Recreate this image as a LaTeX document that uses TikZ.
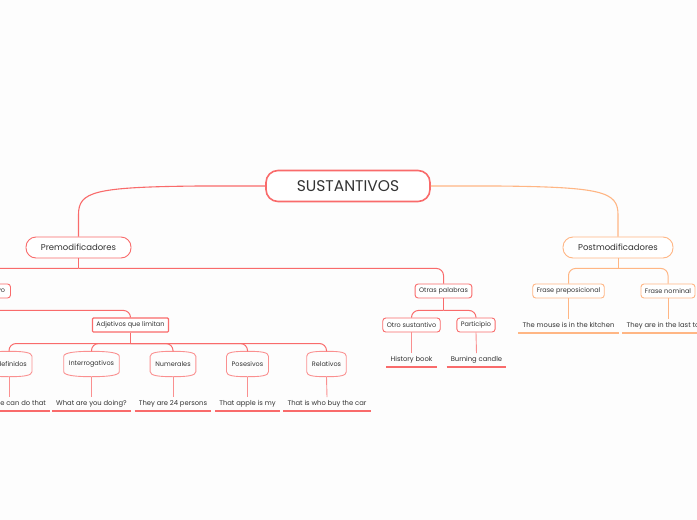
\documentclass[tikz,border=0pt]{standalone}
\usepackage{fontspec}
\setmainfont{Poppins}
\usetikzlibrary{calc,positioning}
\definecolor{mapred}{HTML}{F96B6B}
\definecolor{mapredlt}{HTML}{FA9090}
\definecolor{maporange}{HTML}{FFB684}
\definecolor{maptext}{HTML}{333333}
\definecolor{mapbg}{HTML}{FDFDFD}

% outline of the rounded "tape" boxes under Adjetivos que limitan
\newcommand\tapebox[1]{%
  \draw[draw=mapredlt,line width=0.9pt] (#1.south west) -- (#1.north west)
    .. controls +(0,-4) and +(-14,0) .. ($(#1.north)+(0,-5)$)
    .. controls +(14,0) and +(0,-4) .. (#1.north east) -- (#1.south east)
    .. controls +(0,4) and +(14,0) .. ($(#1.south)+(0,5)$)
    .. controls +(-14,0) and +(0,4) .. (#1.south west) -- cycle;
  \coordinate (#1-top) at ($(#1.north)+(0,-5)$);
  \coordinate (#1-bot) at ($(#1.south)+(0,5)$);}

\begin{document}
\begin{tikzpicture}[x=1pt,y=-1pt,
  every node/.style={text=maptext},
  rootbox/.style={draw=mapred,line width=1.6pt,fill=white,rounded corners=12pt,minimum width=164pt,minimum height=31pt,font=\fontsize{15.5}{17}\selectfont},
  mainbox/.style={draw=#1,line width=0.9pt,fill=white,rounded corners=10pt,minimum height=21pt,font=\fontsize{8.5}{10}\selectfont},
  subbox/.style={draw=#1,line width=0.9pt,fill=white,rounded corners=3pt,minimum height=14pt,inner xsep=4pt,font=\fontsize{6.5}{8}\selectfont},
  tapenode/.style={minimum height=15pt,inner xsep=5pt,font=\fontsize{6.5}{8}\selectfont},
  leaf/.style={inner xsep=4pt,inner ysep=3.5pt,text height=5pt,text depth=1.5pt,font=\fontsize{6.8}{8}\selectfont},
  underl/.style={draw=#1,line width=1.1pt},
  trunk/.style={draw=#1,line width=1.1pt},
  link/.style={draw=#1,line width=1pt,rounded corners=7pt}]
\useasboundingbox (0,0) rectangle (697,520);
\fill[mapbg] (0,0) rectangle (697,520);

\node[rootbox] (root) at (348,186) {SUSTANTIVOS};
\node[mainbox=mapred,minimum width=105pt] (pre) at (78.5,247.5) {Premodificadores};
\node[mainbox=maporange,minimum width=110pt] (post) at (618,247.5) {Postmodificadores};

\node[subbox=mapred,minimum width=37pt] (adj) at (-8,291) {Adjetivo};
\node[subbox=mapred] (otras) at (443.5,291) {Otras palabras};
\node[subbox=mapred,rounded corners=1pt,line width=1.1pt] (lim) at (130.5,325) {Adjetivos que limitan};
\node[subbox=mapred] (otro) at (411.5,325) {Otro sustantivo};
\node[subbox=mapred] (part) at (476,325) {Participio};
\node[subbox=maporange] (fprep) at (568.5,291) {Frase preposicional};
\node[subbox=maporange] (fnom) at (668,291) {Frase nominal};

\foreach \n/\x/\t in {indef/9/Indefinidos,inter/91.5/Interrogativos,num/173/Numerales,pos/247.5/Posesivos,rel/326.5/Relativos}
  {\node[tapenode] (\n) at (\x,364) {\t}; \tapebox{\n}}

% examples
\foreach \n/\x/\y/\t in {indef/9/404/Someone can do that,inter/91.5/404/What are you doing?,
    num/173/404/They are 24 persons,pos/247.5/404/That apple is my,
    rel/327/404/That is who buy the car,otro/411.5/360/History book,
    part/476.5/360/Burning candle,fprep/568.5/326/The mouse is in the kitchen,
    fnom/668/326/They are in the last town}
  \node[leaf] (ex-\n) at (\x,\y) {\t};
\foreach \n in {indef,inter,num,pos,rel,otro,part}
  \draw[underl=mapred] (ex-\n.south west) -- (ex-\n.south east);
\foreach \n in {fprep,fnom}
  \draw[underl=maporange] (ex-\n.south west) -- (ex-\n.south east);

% trunks from the root
\draw[trunk=mapred] (root.west) -- ++(-66,0) .. controls +(-105,1) and +(0,-23) .. ($(pre.north)+(0,-22)$) -- (pre.north);
\draw[trunk=maporange] (root.east) -- ++(66,0) .. controls +(105,1) and +(0,-23) .. ($(post.north)+(0,-22)$) -- (post.north);

% buses
\coordinate (pre-bus) at ($(pre.south)+(0,10)$);
\draw[link=mapred] (pre.south) -- (pre-bus);
\foreach \c in {adj,otras} \draw[link=mapred] (pre-bus) -| (\c.north);
\coordinate (adj-bus) at ($(adj.south)+(0,12)$);
\draw[link=mapred] (adj.south) -- (adj-bus) -| (lim.north);
\coordinate (lim-bus) at ($(lim.south)+(0,11)$);
\draw[link=mapred,line width=1.4pt] (lim.south) -- (lim-bus);
\foreach \c in {indef,inter,num,pos,rel} \draw[link=mapred] (lim-bus) -| (\c-top);
\coordinate (otras-bus) at ($(otras.south)+(0,12)$);
\draw[link=mapred] (otras.south) -- (otras-bus);
\foreach \c in {otro,part} \draw[link=mapred] (otras-bus) -| (\c.north);
\coordinate (post-bus) at ($(post.south)+(0,10)$);
\draw[link=maporange] (post.south) -- (post-bus);
\foreach \c in {fprep,fnom} \draw[link=maporange] (post-bus) -| (\c.north);

% down to the examples
\foreach \c in {indef,inter,num,pos,rel} \draw[mapredlt,line width=0.9pt] (\c-bot) -- (ex-\c.north);
\foreach \c in {otro,part} \draw[mapredlt,line width=0.9pt] (\c.south) -- (ex-\c.north);
\foreach \c in {fprep,fnom} \draw[maporange,line width=0.9pt] (\c.south) -- (ex-\c.north);
\end{tikzpicture}
\end{document}
